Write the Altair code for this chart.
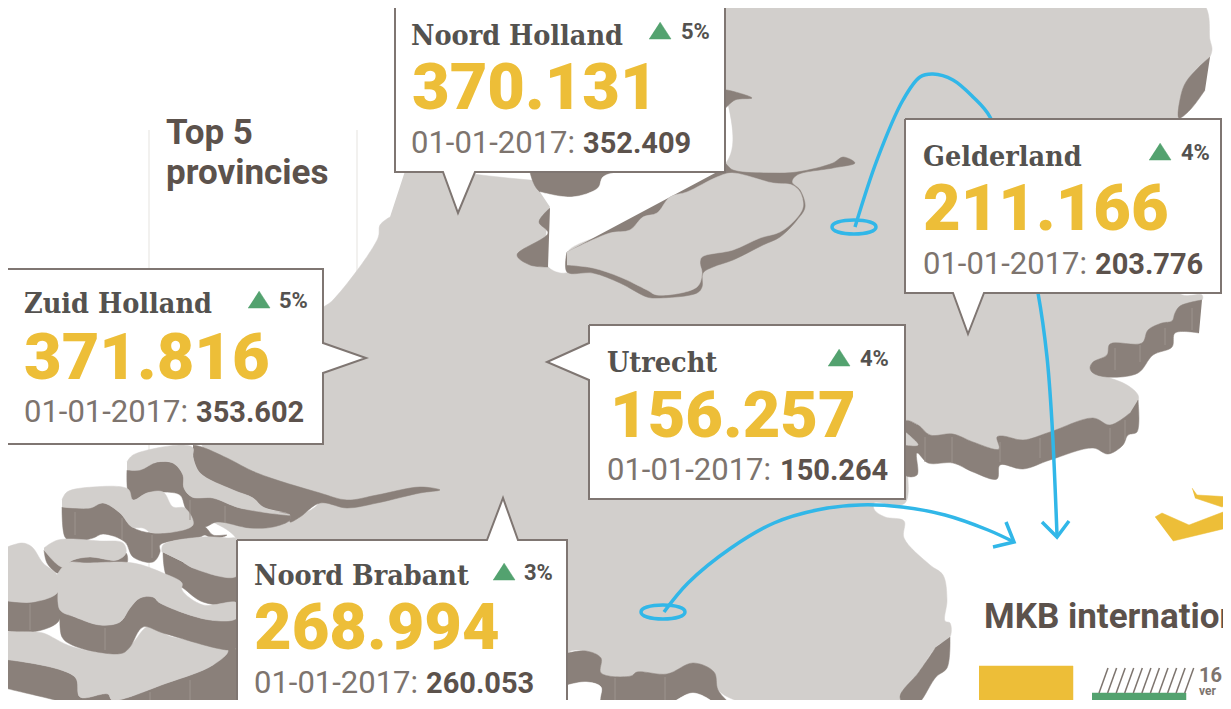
import altair as alt
import pandas as pd

LIGHT = "#d2cfcc"
DARK = "#8a807a"
WHITE = "#ffffff"
YELLOW = "#edbe38"
GREEN = "#53a26f"
BLUE = "#31b7e8"
BORDER = "#7f7672"
TITLE = "#5c524c"
SERIF = "#54524f"
DATE = "#7d746e"

# map outlines, painted in this order (colour, vertices)
mainland = [(407,165),(724,165),(724,0),(1200,0),(1210,40),(1212,50),(1208,60),(1198,68),(1186,82),(1181,95),(1179,118),(1179,293),
 (1202,295),(1202,300),(1180,306),(1175,313),(1172,321),(1162,323),(1148,330),(1142,343),(1110,344),(1107,355),(1093,362),(1090,368),
 (1093,373),(1107,377),(1127,385),(1138,395),(1138,402),(1130,413),(1110,425),(1093,418),(1050,432),(1023,440),(1003,436),(997,437),
 (999,449),(973,442),(953,434),(930,435),(918,425),(905,421),(905,503),(874,503),(874.5,510),(885,517),(904,521),(904,538),(930,565),
 (943,575),(947,600),(945,621),(950,623),(950,637),(936,647),(919,672),(900,697),(909,709),(765,708),(718,690),(714,672),(693,663),
 (667,674),(637,672),(631,676),(601,673),(601,658),(586,651),(568,653),(560,709),(237,709),(237,540),(213,521),(250,528),(273,527),
 (290,520),(318,503),(300,490),(202,445),(320,310),(333,300),(378,238),(380,225),(390,217)]
dark_ne = [(1210,57),(1198,68),(1186,82),(1181,95),(1179,118),(1190,110),(1205,90)]
dark_east_up = [(1202,300),(1180,306),(1175,313),(1172,321),(1162,323),(1148,330),(1142,343),(1110,344),(1107,355),(1093,362),(1090,368),
 (1093,373),(1107,377),(1138,373),(1153,355),(1172,347),(1175,333),(1199,333)]
dark_east_low = [(1138,400),(1137,432),(1128,435),(1123,445),(1108,454),(1093,448),(1050,460),(1023,469),(1000,465),(997,479),(973,472),
 (953,463),(928,463),(917,453),(917,475),(905,475),(905,421),(918,425),(930,435),(953,434),(973,442),(999,449),(997,437),(1003,436),
 (1023,440),(1050,432),(1093,418),(1110,425),(1130,413)]
light_east_bit = [(905,432),(910,436),(918,445),(905,445)]
dark_south_east = [(950,637),(947,668),(936,677),(919,703),(909,708),(900,697),(919,672),(936,647)]
dark_south = [(560,655),(568,653),(586,651),(601,658),(601,673),(631,676),(637,672),(667,674),(693,663),(714,672),(718,690),(733,709),
 (718,709),(714,703),(693,693),(667,704),(637,702),(631,707),(601,703),(601,687),(586,682),(568,685),(560,687)]
white_south = [(568,685),(586,682),(601,687),(601,703),(631,707),(637,702),(667,704),(693,693),(714,703),(718,709),(560,709),(560,687)]
markermeer = [(530,165),(530,172),(540,192),(572,197),(598,188),(603,177),(620,172),(620,165)]
water = [(540,192),(572,197),(598,188),(603,177),(620,172),(717,172),(717,177),(687,192),(670,197),(657,213),(643,217),(630,230),(610,233),
 (567,252),(567,272),(548,266),(550,207)]
notch = [(550,208),(539,222),(548,233),(517,255),(530,265),(548,267)]
arm = [(724,90),(727,90),(752,98),(735,100),(724,110)]
flevo_rim = [(717,172),(724,163),(733,170),(773,173),(797,172),(833,163),(843,157),(855,163),(833,168),(797,175),(792,182),(800,190),(805,207),
 (797,220),(780,237),(763,245),(733,260),(713,267),(703,273),(702,287),(697,293),(657,298),(647,297),(620,283),(593,273),(567,272),(567,252)]
flevo = [(567,252),(610,233),(630,230),(643,217),(657,213),(670,197),(687,192),(717,177),(732,173),(773,183),(792,185),(800,192),(803,207),
 (795,220),(780,232),(760,238),(733,250),(702,257),(700,263),(702,273),(697,287),(657,295),(647,290),(620,277),(593,268),(567,265)]
river = [(193,445),(202,447),(227,458),(257,473),(320,493),(347,500),(377,495),(420,487),(440,490),(420,493),(377,503),(347,508),(320,503),
 (300,517),(290,522),(290,515),(263,507),(253,498),(233,490),(200,473),(193,457)]
a_dark = [(127,470),(128,492),(133,500),(147,493),(163,492),(180,495),(185,507),(193,527),(205,527),(217,522),(250,528),(273,527),(290,520),
 (290,515),(240,508),(213,498),(192,497),(184,488),(183,475),(173,463),(157,462)]
a_light = [(127,462),(133,455),(182,445),(193,448),(193,457),(200,473),(233,490),(253,498),(263,507),(290,515),(240,508),(213,498),(192,497),
 (184,488),(183,475),(173,463),(157,462),(140,470),(127,470)]
b_dark = [(62,507),(65,537),(72,542),(93,538),(103,534),(125,542),(133,557),(153,562),(160,552),(160,545),(200,537),(205,535),(213,539),
 (227,535),(213,535),(205,527),(193,525),(153,533),(132,527),(120,513),(103,503),(90,508)]
b_light = [(62,500),(67,492),(93,487),(128,489),(133,500),(147,493),(163,492),(173,507),(185,508),(193,525),(153,533),(143,528),(132,527),
 (120,513),(103,503),(90,508),(62,507)]
c_dark = [(163,552),(167,577),(183,588),(203,602),(237,603),(237,576),(193,568),(183,562)]
c_light = [(162,552),(163,545),(203,537),(227,538),(237,539),(237,576),(193,568),(183,562)]
d_dark = [(44,550),(47,563),(57,573),(63,572),(77,565),(117,565),(127,563),(126,553),(117,560),(90,557),(73,560),(62,567)]
d_light = [(44,548),(58,540),(100,541),(123,543),(126,553),(117,560),(90,557),(73,560),(62,567),(44,550)]
e_dark = [(0,600),(33,602),(58,592),(61,610),(58,622),(33,632),(0,630)]
e_light = [(0,550),(22,543),(32,547),(43,563),(57,575),(58,592),(33,602),(0,600)]
f_dark = [(60,610),(62,637),(72,645),(103,653),(123,653),(130,647),(143,627),(163,633),(230,650),(237,647),(237,618),(210,620),(160,603),
 (153,597),(140,598),(130,608),(120,622),(100,625),(75,617)]
f_light = [(57,575),(67,563),(87,563),(133,563),(163,573),(182,583),(182,590),(203,605),(237,603),(237,618),(210,620),(160,603),(153,597),
 (140,598),(130,608),(120,622),(100,625),(75,617),(60,610),(58,592)]
g_dark = [(0,660),(10,660),(75,677),(80,697),(108,694),(112,700),(167,683),(213,665),(228,650),(237,650),(237,709),(75,709),(75,707),(13,690),(0,687)]
g_light = [(0,632),(33,632),(43,633),(73,647),(123,653),(133,643),(147,627),(160,628),(167,635),(228,650),(213,665),(167,683),(112,700),(108,694),
 (80,697),(75,677),(10,660),(0,660)]
plane_wing = [(1192,488),(1197,495),(1231,497),(1231,503),(1222,507),(1195,498)]
plane_body = [(1155,517),(1162,513),(1189,525),(1231,509),(1231,527),(1173,541)]
yellow_rect = [(979,666),(1073,666),(1073,709),(979,709)]
green_rect = [(1092,693),(1186,693),(1186,709),(1092,709)]

organic = [
 (mainland, LIGHT), (dark_ne, DARK), (dark_east_up, DARK), (dark_east_low, DARK), (light_east_bit, LIGHT), (dark_south_east, DARK),
 (dark_south, DARK), (white_south, WHITE), (markermeer, DARK), (water, WHITE), (notch, DARK), (arm, DARK), (flevo_rim, DARK), (flevo, LIGHT),
 (river, DARK), (a_dark, DARK), (a_light, LIGHT), (b_dark, DARK), (b_light, LIGHT), (c_dark, DARK), (c_light, LIGHT), (d_dark, DARK),
 (d_light, LIGHT), (e_dark, DARK), (e_light, LIGHT), (g_dark, DARK), (g_light, LIGHT), (f_dark, DARK), (f_light, LIGHT),
]
angular = [(plane_wing, YELLOW), (plane_body, YELLOW), (yellow_rect, YELLOW), (green_rect, GREEN)]

guides = [[(149,130),(149,270)], [(149,444),(149,570)], [(357,130),(357,300)], [(565,195),(565,270)]]
streaks = [[(925,437),(925,462)], [(952,437),(952,463)], [(1000,442),(1000,462)], [(1040,438),(1040,458)], [(1110,428),(1110,452)], [(1125,420),(1125,440)],
           [(1115,348),(1115,370)], [(1140,345),(1140,362)], [(1165,328),(1165,345)], [(1192,308),(1192,330)],
           [(75,512),(75,535)], [(122,518),(122,540)], [(152,535),(152,558)], [(190,500),(190,520)], [(225,506),(225,522)],
           [(30,604),(30,630)], [(105,628),(105,650)], [(190,680),(190,708)], [(150,692),(150,708)], [(615,678),(615,703)], [(665,677),(665,702)]]
hatch_bottom = [1096,1104.6,1113.2,1121.7,1130.3,1138.9,1147.4,1156,1164.6,1173.1,1181.7]
hatch_top = [1108,1116.6,1125.2,1133.7,1142.3,1150.9,1159.4,1168,1176.6,1185.1,1193.7]

ring_a = [(832,227),(838,222),(854,220),(870,222),(876,227),(870,232),(854,234),(838,232)]
ring_b = [(641,612),(647,607),(663,605),(679,607),(685,612),(679,617),(663,619),(647,617)]
curve_a = [(855,227),(877,160),(903,100),(920,77),(933,74),(953,80),(973,97),(990,117),(1015,190),(1038,293),(1047,357),(1052,423),(1057,535)]
head_a = [(1042,522),(1057,537),(1069,521)]
curve_b = [(664,612),(688,583),(731,548),(774,523),(817,510),(860,505),(902,507),(945,515),(988,530),(1014,542)]
head_b = [(1006,522),(1014,542),(993,547)]

# callouts
call_nh = [(395,-4),(725,-4),(725,172),(475,172),(458,213),(443,172),(395,172),(395,-4)]
call_ge = [(905,119),(1221,119),(1221,293),(984,293),(968,334),(953,293),(905,293),(905,119)]
call_zh = [(7,269),(323,269),(323,343),(366,358),(323,373),(323,444),(7,444),(7,269)]
call_ut = [(589,325),(905,325),(905,499),(589,499),(589,380),(547,362),(589,343),(589,325)]
call_nb = [(237,540),(487,540),(503,498),(518,540),(567,540),(567,715),(237,715),(237,540)]
callouts = [call_nh, call_ge, call_zh, call_ut, call_nb]

names = ["Noord Holland", "Gelderland", "Zuid Holland", "Utrecht", "Noord Brabant"]
name_x = [411, 923, 24, 607, 254]
name_y = [45, 166, 313, 372, 585]
big_values = ["370.131", "211.166", "371.816", "156.257", "268.994"]
big_x = [412, 923, 24, 610, 254]
big_y = [109, 230, 379, 437, 649]
date_x = [411, 923, 24, 607, 254]
date_y = [153, 274, 422, 480, 693]
old_values = ["352.409", "203.776", "353.602", "150.264", "260.053"]
old_x = [583, 1095, 196, 780, 426]
pct = ["5%", "4%", "5%", "4%", "3%"]
pct_x = [681, 1181, 279, 860, 524]
pct_y = [39, 160, 308, 366, 580]
tri_left = [649, 1149, 248, 828, 493]

# the page's margin is 8px: plot coordinates equal the reference's own pixels
XS = alt.Scale(domain=[8, 1223], range=[0, 1215])
YS = alt.Scale(domain=[8, 700], range=[0, 692])

def enc_xy():
    return dict(x=alt.X("x:Q", scale=XS, axis=None), y=alt.Y("y:Q", scale=YS, axis=None))

def line_layer(pts, stroke, width, fill=None, interpolate="linear"):
    df = pd.DataFrame({"x": [p[0] for p in pts], "y": [p[1] for p in pts], "i": list(range(len(pts)))})
    kw = dict(stroke=stroke, strokeWidth=width, interpolate=interpolate, clip=True)
    if fill:
        kw["fill"] = fill
    return alt.Chart(df).mark_line(**kw).encode(order=alt.Order("i:Q"), **enc_xy())

def text_layer(texts, xs, ys, font, size, weight, color):
    df = pd.DataFrame({"x": xs, "y": ys, "t": texts})
    return alt.Chart(df).mark_text(font=font, fontSize=size, fontWeight=weight, color=color, align="left",
                                   baseline="alphabetic", clip=True).encode(text="t:N", **enc_xy())

layers = []
for g in guides:
    layers.append(line_layer(g, "#eeecea", 1.5))
for pts, col in organic:
    layers.append(line_layer(pts, col, 0.5, fill=col, interpolate="catmull-rom"))
for s in streaks:
    layers.append(line_layer(s, "#9c938d", 1))
for pts, col in angular:
    layers.append(line_layer(pts, col, 0.5, fill=col))
for b, t in zip(hatch_bottom, hatch_top):
    layers.append(line_layer([(b + 3, 693), (t, 668)], DATE, 1.5))
layers.append(line_layer(curve_a, BLUE, 3.5, interpolate="catmull-rom"))
layers.append(line_layer(head_a, BLUE, 3.5))
layers.append(line_layer(curve_b, BLUE, 3.5, interpolate="catmull-rom"))
layers.append(line_layer(head_b, BLUE, 3.5))
layers.append(line_layer(ring_a, BLUE, 3.5, interpolate="cardinal-closed"))
layers.append(line_layer(ring_b, BLUE, 3.5, interpolate="cardinal-closed"))
for c in callouts:
    layers.append(line_layer(c, BORDER, 2, fill=WHITE))
for left, ptxt in zip(tri_left, pct_y):
    layers.append(line_layer([(left, ptxt), (left + 22, ptxt), (left + 11, ptxt - 17)], GREEN, 0.5, fill=GREEN))

layers.append(text_layer(names, name_x, name_y, "DejaVu Serif Condensed", 28.5, "bold", SERIF))
layers.append(text_layer(big_values, big_x, big_y, "Roboto", 65, 900, YELLOW))
layers.append(text_layer(["01-01-2017:"] * 5, date_x, date_y, "Roboto", 31, "normal", DATE))
layers.append(text_layer(old_values, old_x, date_y, "Roboto", 29, "bold", TITLE))
layers.append(text_layer(pct, pct_x, pct_y, "Roboto", 22, "bold", SERIF))
layers.append(text_layer(["Top 5", "provincies"], [166, 166], [144, 184], "Roboto", 35, "bold", TITLE))
layers.append(text_layer(["MKB internationaal"], [984], [628], "Roboto", 35, "bold", TITLE))
layers.append(text_layer(["16"], [1199], [682], "Roboto", 20, "bold", DATE))
layers.append(text_layer(["ver"], [1199], [695], "Roboto", 12, "bold", DATE))

chart = alt.layer(*layers).properties(
    width=1215, height=692, padding=0,
    autosize=alt.AutoSizeParams(type="none"),
).configure_view(stroke=None)

chart.save("out.html", embed_options={"renderer": "svg", "actions": False})
